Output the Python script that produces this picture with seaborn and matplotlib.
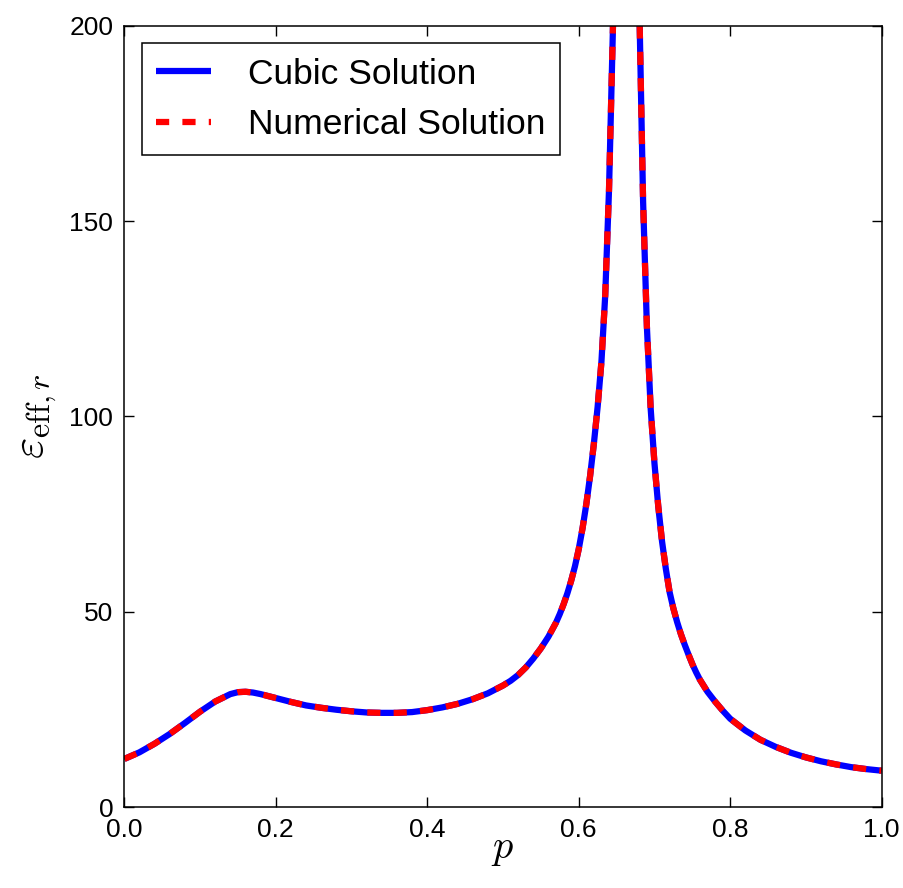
import matplotlib
matplotlib.use("Agg")
import matplotlib.pyplot as plt
import seaborn as sns
import pandas as pd

# Filling fraction p and effective relative permittivity
p_values = [0.00, 0.02, 0.04, 0.06, 0.08, 0.10, 0.12, 0.14, 0.15, 0.16,
            0.17, 0.18, 0.20, 0.22, 0.24, 0.26, 0.28, 0.30, 0.32, 0.34,
            0.36, 0.38, 0.40, 0.42, 0.44, 0.46, 0.48, 0.50, 0.51, 0.52,
            0.53, 0.54, 0.55, 0.56, 0.57, 0.575, 0.58, 0.585, 0.59, 0.595,
            0.60, 0.605, 0.61, 0.615, 0.62, 0.625, 0.63, 0.635, 0.64, 0.645,
            0.65, 0.655, 0.66, 0.665, 0.67, 0.675, 0.68, 0.685, 0.69, 0.695,
            0.70, 0.705, 0.71, 0.715, 0.72, 0.725, 0.73, 0.735, 0.74, 0.745,
            0.75, 0.755, 0.76, 0.77, 0.78, 0.79, 0.80, 0.82, 0.84, 0.86,
            0.88, 0.90, 0.92, 0.94, 0.96, 0.98, 1.00]

eps_cubic = [12.3, 14.0, 16.2, 18.7, 21.5, 24.4, 27.0, 28.9, 29.4, 29.5,
             29.3, 28.9, 27.9, 26.9, 26.0, 25.4, 24.9, 24.5, 24.2, 24.1,
             24.1, 24.3, 24.8, 25.5, 26.4, 27.6, 29.1, 31.1, 32.3, 33.8,
             35.7, 38.0, 40.6, 43.6, 47.2, 49.4, 51.9, 54.7, 57.9, 61.6,
             66.0, 71.3, 77.5, 84.7, 93.0, 102.5, 114.0, 131.0, 158.0, 198.0,
             245.0, 300.0, 350.0, 370.0, 340.0, 275.0, 205.0, 155.0, 123.0, 102.0,
             88.0, 77.0, 68.0, 61.0, 55.0, 50.8, 47.3, 44.2, 41.5, 39.0,
             36.6, 34.5, 32.6, 29.5, 27.0, 24.7, 22.6, 19.6, 17.2, 15.4,
             13.9, 12.7, 11.7, 10.9, 10.2, 9.7, 9.3]

eps_numerical = list(eps_cubic)

labels = ["Cubic Solution", "Numerical Solution"]
x_ticks = [0.0, 0.2, 0.4, 0.6, 0.8, 1.0]
y_ticks = [0, 50, 100, 150, 200]

df_cubic = pd.DataFrame({"p": p_values, "eps": eps_cubic})
df_num = pd.DataFrame({"p": p_values, "eps": eps_numerical})

sns.set_style("ticks")
plt.rcParams["font.family"] = ["Liberation Sans", "DejaVu Sans"]
plt.rcParams["mathtext.fontset"] = "cm"
plt.rcParams["lines.scale_dashes"] = False
for key in ["text.color", "axes.labelcolor", "xtick.color", "ytick.color",
            "axes.edgecolor"]:
    plt.rcParams[key] = "black"

fig = plt.figure(figsize=(9.04, 8.88), dpi=100)
ax = fig.add_axes([0.1375, 0.0912, 0.8378, 0.8799])

sns.lineplot(data=df_cubic, x="p", y="eps", ax=ax, color="#0000ff",
             linewidth=4.5, label=labels[0], solid_capstyle="butt")
sns.lineplot(data=df_num, x="p", y="eps", ax=ax, color="#ff0000",
             linewidth=4.5, label=labels[1], dashes=False)
ax.lines[1].set_dashes((9.5, 9.5))
ax.lines[1].set_dash_capstyle("butt")

ax.set_xlim(0, 1)
ax.set_ylim(0, 200)
ax.set_xticks(x_ticks)
ax.set_yticks(y_ticks)
ax.set_xticklabels([f"{t:.1f}" for t in x_ticks])
ax.set_yticklabels([str(t) for t in y_ticks])

ax.tick_params(direction="in", length=7, width=1, labelsize=19,
               top=True, right=True, pad=8, colors="black")
for s in ax.spines.values():
    s.set_visible(True)
    s.set_color("black")
    s.set_linewidth(1.1)

ax.set_xlabel(r"$p$", fontsize=29, labelpad=-9)
ax.set_ylabel(r"$\varepsilon_{\mathrm{eff},r}$", fontsize=33, labelpad=7)

leg = ax.legend(loc="upper left", fontsize=25.5, frameon=True, fancybox=False,
                handlelength=1.55, handletextpad=1.05, borderpad=0.4,
                labelspacing=0.5, borderaxespad=0.5)
leg.get_frame().set_edgecolor("black")
leg.get_frame().set_linewidth(1.1)
leg.get_frame().set_alpha(1.0)
for t in leg.get_texts():
    t.set_color("black")

fig.savefig("out.png", dpi=100, facecolor="white")
